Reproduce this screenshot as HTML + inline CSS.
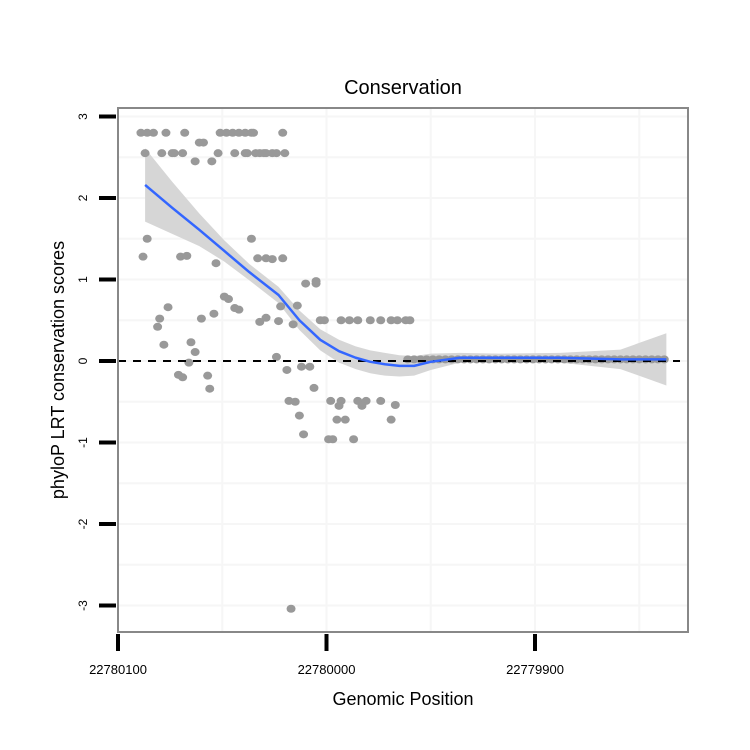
<!DOCTYPE html>
<html><head><meta charset="utf-8"><style>
body{margin:0;background:#fff;}
svg{display:block;font-family:"Liberation Sans",sans-serif;}
</style></head><body>
<svg id="chart" width="750" height="750"></svg>
<script>
const xVals=[22780089,22780086,22780083,22780077,22780068,22780051,22780048,22780045,22780042,22780039,22780036,22780035,22780021,
22780061,22780059,
22780087,22780079,22780074,22780073,22780069,22780052,22780044,22780039,22780038,22780034,22780032,22780030,22780029,22780026,22780024,22780020,
22780063,22780055,
22780086,22780036,22780088,22780070,22780067,22780053,22780033,22780029,22780026,22780021,
22780010,22780005,22780005,22780049,22780047,22780076,22780044,22780042,22780022,22780014,
22780080,22780081,22780060,22780054,22780032,22780029,22780023,22780016,
22780003,22780001,22779993,22779989,22779985,22779979,22779974,22779969,22779966,22779962,22779960,
22780078,22780065,22780063,22780066,22780071,22780069,22780057,22780056,22780024,22780019,22780012,22780008,22780006,
22780018,22780015,22779998,22779993,22779994,22779985,22779981,22779974,22779983,22779967,
22780013,22779995,22779991,22779969,22780011,22779999,22779997,22779987,22780017,
22779961,22779958,22779955,22779952,22779949,22779946,22779943,22779940,22779937,22779934,22779931,22779928,22779925,22779922,22779919,22779916,22779913,22779910,22779907,22779904,22779901,22779898,22779895,22779892,22779889,22779886,22779883,22779880,22779877,22779874,22779871,22779868,22779865,22779862,22779859,22779856,22779853,22779850,22779847,22779844,22779841,22779838];
const yVals=[2.8,2.8,2.8,2.8,2.8,2.8,2.8,2.8,2.8,2.8,2.8,2.8,2.8,
2.68,2.68,
2.55,2.55,2.55,2.55,2.55,2.55,2.55,2.55,2.55,2.55,2.55,2.55,2.55,2.55,2.55,2.55,
2.45,2.45,
1.5,1.5,1.28,1.28,1.29,1.2,1.26,1.26,1.25,1.26,
0.95,0.98,0.95,0.79,0.76,0.66,0.65,0.63,0.67,0.68,
0.52,0.42,0.52,0.58,0.48,0.53,0.49,0.45,
0.5,0.5,0.5,0.5,0.5,0.5,0.5,0.5,0.5,0.5,0.5,
0.2,0.23,0.11,-0.02,-0.17,-0.2,-0.18,-0.34,0.05,-0.11,-0.07,-0.07,-0.33,
-0.49,-0.5,-0.49,-0.49,-0.55,-0.49,-0.49,-0.49,-0.55,-0.54,
-0.67,-0.72,-0.72,-0.72,-0.9,-0.96,-0.96,-0.96,-3.04,
0.02,0.02,0.02,0.02,0.02,0.02,0.02,0.02,0.02,0.02,0.02,0.02,0.02,0.02,0.02,0.02,0.02,0.02,0.02,0.02,0.02,0.02,0.02,0.02,0.02,0.02,0.02,0.02,0.02,0.02,0.02,0.02,0.02,0.02,0.02,0.02,0.02,0.02,0.02,0.02,0.02,0.02];
const smoothX=[22780087,22780074,22780061,22780049,22780037,22780023,22780013,22780003,22779994,22779986,22779979,22779972,22779965,22779958,22779950,22779936,22779917,22779888,22779859,22779837];
const smoothY=[2.16,1.88,1.61,1.35,1.09,0.81,0.5,0.26,0.12,0.04,-0.01,-0.04,-0.06,-0.06,-0.01,0.04,0.04,0.04,0.02,0.02];
const smoothSE=[0.45,0.32,0.2,0.13,0.1,0.1,0.12,0.13,0.14,0.14,0.14,0.14,0.13,0.12,0.1,0.06,0.05,0.06,0.12,0.32];
const yTicks=[3,2,1,0,-1,-2,-3];
const xTicks=[22780100,22780000,22779900];
const NS="http://www.w3.org/2000/svg";
const svg=document.getElementById('chart');
const L=118,R=688,T=108,B=632;
function sx(v){return 118+(22780100-v)*2.085;}
function sy(v){return 361-v*81.5;}
function mk(t,a,p){const e=document.createElementNS(NS,t);for(const k in a)e.setAttribute(k,a[k]);(p||svg).appendChild(e);return e;}
for(let g=-3.5;g<=3.5;g+=0.5){const y=sy(g);if(y<T||y>B)continue;
const l=mk('line',{x1:L,x2:R,y1:y,y2:y,stroke:'#f6f6f6','stroke-width':2});

}
for(let g=22780100;g>=22779850;g-=50){const x=sx(g);if(x<L||x>R)continue;
const l=mk('line',{x1:x,x2:x,y1:T,y2:B,stroke:'#f6f6f6','stroke-width':2});

}
let up=smoothX.map((x,i)=>sx(x)+','+sy(smoothY[i]+smoothSE[i]));
let dn=smoothX.map((x,i)=>sx(x)+','+sy(smoothY[i]-smoothSE[i])).reverse();
const rib=mk('polygon',{points:up.concat(dn).join(' '),fill:'#d6d6d6'});


xVals.forEach((x,i)=>{const c=mk('ellipse',{cx:sx(x),cy:sy(yVals[i]),rx:4.5,ry:4,fill:'#999'});

});
const z=mk('line',{x1:L,x2:R-8,y1:sy(0),y2:sy(0),stroke:'#000','stroke-width':2,'stroke-dasharray':'8,7'});


const sl=mk('polyline',{points:smoothX.map((x,i)=>sx(x)+','+sy(smoothY[i])).join(' '),fill:'none',stroke:'#3366ff','stroke-width':2.5,'stroke-linejoin':'round'});


const bd=mk('rect',{x:L,y:T,width:R-L,height:B-T,fill:'none',stroke:'#888','stroke-width':2});


yTicks.forEach(v=>{const y=sy(v);
const t=mk('line',{x1:99,x2:116,y1:y,y2:y,stroke:'#000','stroke-width':4});


const tx=mk('text',{x:0,y:0,'font-size':12,'text-anchor':'middle',transform:`translate(87,${y}) rotate(-90)`});
tx.textContent=v;

});
xTicks.forEach(v=>{const x=sx(v);
const t=mk('line',{x1:x,x2:x,y1:634,y2:651,stroke:'#000','stroke-width':4});


const tx=mk('text',{x:x,y:674,'font-size':13,'text-anchor':'middle'});
tx.textContent=v;

});
</script>
<svg style="position:absolute;left:0;top:0" width="750" height="750">
<text x="403" y="94" font-size="20" text-anchor="middle" font-family="Liberation Sans,sans-serif">Conservation</text>
<text x="403" y="705" font-size="18" text-anchor="middle" font-family="Liberation Sans,sans-serif">Genomic Position</text>
<text transform="translate(64,370) rotate(-90)" font-size="18" text-anchor="middle" font-family="Liberation Sans,sans-serif">phyloP LRT conservation scores</text>
</svg>
</body></html>
